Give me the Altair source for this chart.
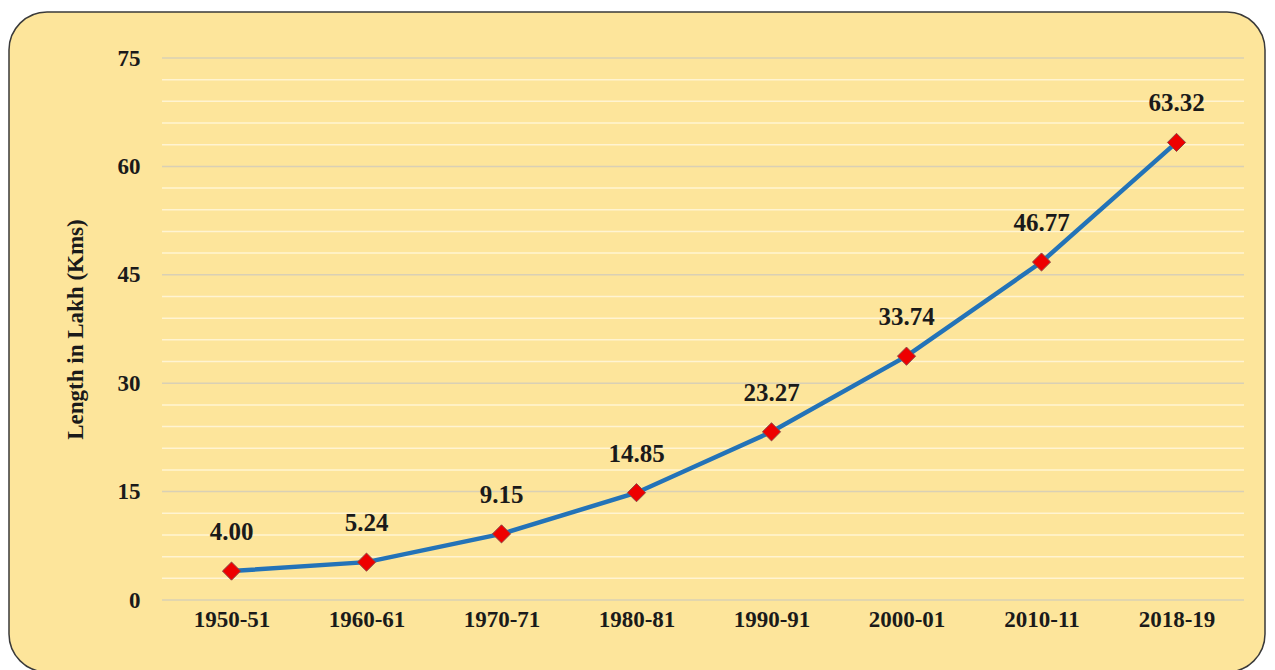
import altair as alt
import pandas as pd

years = ["1950-51", "1960-61", "1970-71", "1980-81", "1990-91", "2000-01", "2010-11", "2018-19"]
lengths = [4.00, 5.24, 9.15, 14.85, 23.27, 33.74, 46.77, 63.32]
labels = ["4.00", "5.24", "9.15", "14.85", "23.27", "33.74", "46.77", "63.32"]
grid_values = list(range(0, 76, 3))

df = pd.DataFrame({"year": years, "length": lengths, "label": labels})
gdf = pd.DataFrame({"v": grid_values, "major": [v % 15 == 0 for v in grid_values]})

W, H = 1080, 542
FONT = "Liberation Serif"
TITLE = "Length in Lakh (Kms)"

bg = alt.Chart(pd.DataFrame({"a": [0]})).mark_rect(
    fill="#FDE59B", stroke="#3a3a3a", strokeWidth=1.5, cornerRadius=38, clip=False
).encode(
    x=alt.value(-155), x2=alt.value(1101), y=alt.value(-46), y2=alt.value(614)
)

yscale = alt.Scale(domain=[0, 75], nice=False)
yaxis = alt.Axis(values=[0, 15, 30, 45, 60, 75],
                 labelFont=FONT, labelFontSize=23, labelFontWeight="bold", labelColor="#1a1a1a",
                 titleFont=FONT, titleFontSize=23, titleFontWeight="bold", titleColor="#1a1a1a",
                 titlePadding=30, labelPadding=24, domain=False, ticks=False, grid=False, zindex=1)

grid = alt.Chart(gdf).mark_rule(strokeWidth=1.5).encode(
    y=alt.Y("v:Q", scale=yscale, title=TITLE, axis=yaxis),
    x=alt.value(-2), x2=alt.value(W),
    color=alt.Color("major:N", scale=alt.Scale(domain=[True, False], range=["#D9D0B5", "#FFF4D2"]), legend=None),
)

x = alt.X("year:N", sort=years, title=None,
          scale=alt.Scale(paddingInner=0, paddingOuter=0.5),
          axis=alt.Axis(labelAngle=0, labelFont=FONT, labelFontSize=23, labelFontWeight="bold",
                        labelColor="#1a1a1a", domain=False, ticks=False, grid=False, labelPadding=8, zindex=1))
y = alt.Y("length:Q", title=TITLE, scale=yscale, axis=yaxis)

base = alt.Chart(df)
line = base.mark_line(color="#2373B8", strokeWidth=4.5).encode(x=x, y=y)
pts = base.mark_point(shape="diamond", filled=True, fill="#EE0000", stroke="#8a4a4a",
                      strokeWidth=1, size=330, opacity=1).encode(x=x, y=y)
txt = base.mark_text(font=FONT, fontSize=25, fontWeight="bold", color="#1a1a1a",
                     dy=-39, baseline="middle").encode(x=x, y=y, text="label:N")

chart = alt.layer(bg, grid, line, pts, txt).resolve_scale(color="independent").properties(
    width=W, height=H,
    autosize=alt.AutoSizeParams(type="none"),
    padding={"left": 156, "top": 50, "right": 23, "bottom": 70},
    background="white",
).configure_view(stroke=None)

chart.save("out.html", embed_options={"renderer": "svg", "actions": False})
